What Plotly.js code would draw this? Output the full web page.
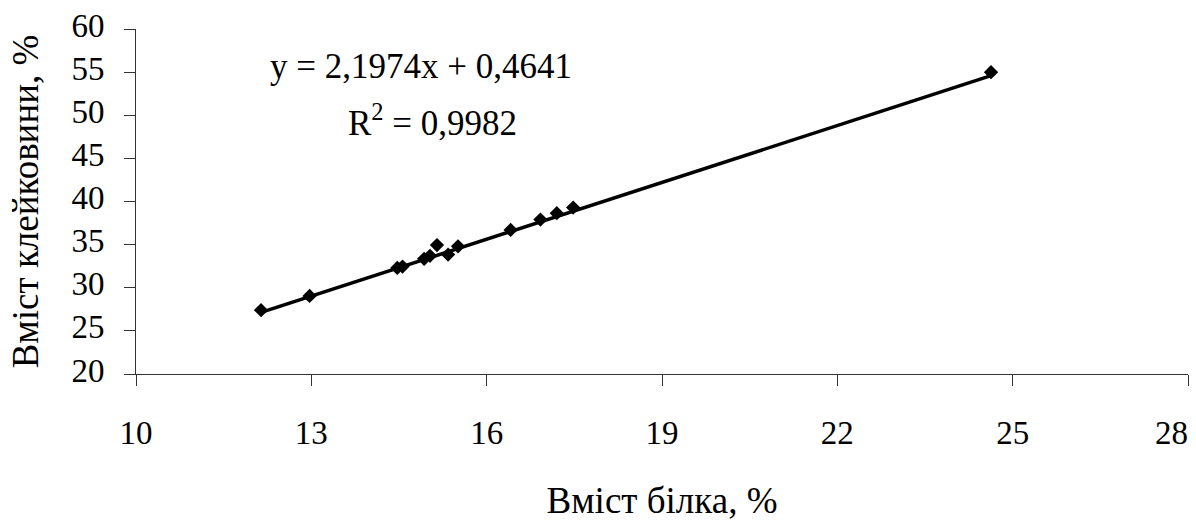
<!DOCTYPE html>
<html>
<head>
<meta charset="utf-8">
<script src="https://cdn.plot.ly/plotly-3.0.1.min.js"></script>
<style>html,body{margin:0;padding:0;background:#fff;}#chart{width:1196px;height:521px;}</style>
</head>
<body>
<div id="chart"></div>
<script>
// Protein content, %
const proteinX = [12.14, 12.97, 14.47, 14.56, 14.93, 15.03, 15.15, 15.34, 15.51, 16.41, 16.92, 17.20, 17.48, 24.63];
// Gluten content, %
const glutenY = [27.4, 29.05, 32.3, 32.45, 33.35, 33.7, 34.95, 33.85, 34.8, 36.7, 37.9, 38.65, 39.3, 55.0];
// Linear trend coefficients
const slope = 2.1974;
const intercept = 0.4641;
const xTicks = [10, 13, 16, 19, 22, 25, 28];
const xTickLabels = ['10', '13', '16', '19', '22', '25', '28\u2007\u2007'];
const yTicks = [20, 25, 30, 35, 40, 45, 50, 55, 60];
const eqText = "y = 2,1974x + 0,4641";
const r2Text = "R<sup>2</sup> = 0,9982";

const xmin = Math.min(...proteinX), xmax = Math.max(...proteinX);
const trendX = [xmin, xmax];
const trendY = trendX.map(v => slope * v + intercept);

const font = "Liberation Serif";
const traces = [
  {x: trendX, y: trendY, mode: 'lines', line: {color: '#000', width: 3.5}, hoverinfo: 'skip', showlegend: false},
  {x: proteinX, y: glutenY, mode: 'markers', marker: {symbol: 'diamond', size: 11, color: '#000'}, showlegend: false}
];
const layout = {
  width: 1196, height: 521,
  margin: {l: 136, r: 8, t: 29, b: 147},
  paper_bgcolor: '#fff', plot_bgcolor: '#fff',
  font: {family: font, size: 33, color: '#000'},
  xaxis: {
    range: [10, 28], tickvals: xTicks, ticktext: xTickLabels,
    showgrid: false, zeroline: false, showline: true, linecolor: '#333', linewidth: 1,
    ticks: 'outside', ticklen: 11, tickcolor: '#333', tickwidth: 1,
    ticklabelstandoff: 18, ticklabeloverflow: 'allow',
    tickfont: {family: font, size: 33, color: '#000'},
    title: {text: 'Вміст білка, %', font: {family: font, size: 37, color: '#000'}, standoff: 40},
    automargin: false
  },
  yaxis: {
    range: [20, 60], tickvals: yTicks, ticktext: yTicks.map(String),
    showgrid: false, zeroline: false, showline: true, linecolor: '#333', linewidth: 1,
    ticks: 'outside', ticklen: 11, tickcolor: '#333', tickwidth: 1,
    ticklabelstandoff: 13, ticklabelshift: -4, ticklabeloverflow: 'allow',
    tickfont: {family: font, size: 33, color: '#000'},
    title: {text: 'Вміст клейковини, %', font: {family: font, size: 37, color: '#000'}, standoff: 21},
    automargin: false
  },
  annotations: [
    {x: 14.87, y: 55.6, xref: 'x', yref: 'y', text: eqText, showarrow: false, font: {family: font, size: 35, color: '#000'}},
    {x: 15.08, y: 49.4, xref: 'x', yref: 'y', text: r2Text, showarrow: false, font: {family: font, size: 35, color: '#000'}}
  ]
};
Plotly.newPlot('chart', traces, layout, {displayModeBar: false, staticPlot: true});
</script>
</body>
</html>
